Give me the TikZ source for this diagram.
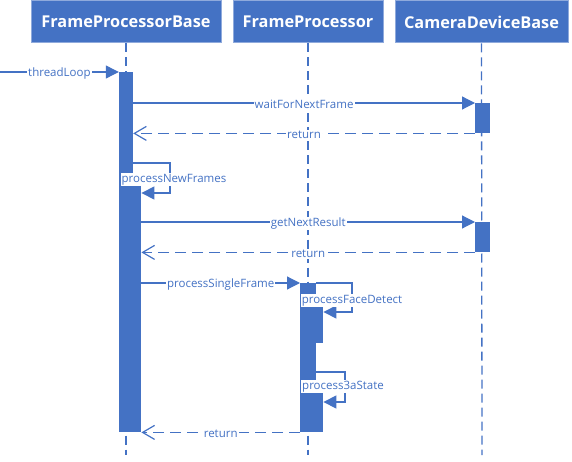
\documentclass[tikz,border=0pt]{standalone}
\usepackage{fontspec}
\setmainfont{Open Sans}
\usetikzlibrary{arrows.meta}
\definecolor{ublue}{HTML}{4472C4}
\definecolor{uedge}{HTML}{8FAADC}
\begin{document}
\begin{tikzpicture}[x=1pt,y=-1pt,
  hdr/.style={draw=uedge,line width=1pt,fill=ublue,text=white,font=\fontsize{16.3}{18}\selectfont\bfseries,minimum height=42pt,inner sep=0pt},
  life/.style={draw=ublue,line width=1.3pt,dash pattern=on 9pt off 5pt},
  actbar/.style={fill=ublue,draw=none,inner sep=0pt},
  call/.style={draw=ublue,line width=1.2pt,-{Triangle[length=13pt,width=13pt]}},
  ret/.style={draw=ublue,line width=1.2pt,dash pattern=on 11pt off 6pt,-{Straight Barb[length=12pt,width=14pt,line width=1.2pt]}},
  lbl/.style={fill=white,text=ublue,font=\fontsize{11.5}{13}\selectfont,inner sep=1pt,yshift=-1.5pt}
]
\useasboundingbox (0,0) rectangle (572,462);
% headers
\node[hdr,minimum width=190pt] (h1) at (126,22) {FrameProcessorBase};
\node[hdr,minimum width=150pt] (h2) at (308,22) {FrameProcessor};
\node[hdr,minimum width=173pt] (h3) at (481.5,22) {CameraDeviceBase};
% lifeline ends
\coordinate (e1) at (126,455);
\coordinate (e2) at (308,455);
\coordinate (e3) at (482,455);
\draw[life] (h1.south) -- (e1);
\draw[life] (h2.south) -- (e2);
\draw[life] (h3.south) -- (e3);
% activation bars
\node[actbar,minimum width=14pt,minimum height=360pt,anchor=north] (b1) at (126,72) {};
\node[actbar,minimum width=8pt,minimum height=246pt,anchor=north west] (b1n) at (133,186) {};
\node[actbar,minimum width=15pt,minimum height=30pt,anchor=north west] (c1) at (475,103) {};
\node[actbar,minimum width=15pt,minimum height=30pt,anchor=north west] (c2) at (475,222) {};
\node[actbar,minimum width=16pt,minimum height=149pt,anchor=north west] (f1) at (300,283) {};
\node[actbar,minimum width=7pt,minimum height=37pt,anchor=north west] (f1a) at (316,306) {};
\node[actbar,minimum width=7pt,minimum height=41pt,anchor=north west] (f1b) at (316,391) {};
% messages
\coordinate (start) at (0,72);
\draw[call] (start) -- node[lbl] {threadLoop} (b1.north west);
\draw[call] (b1.east |- c1.north west) -- node[lbl] {waitForNextFrame} (c1.north west);
\draw[ret] (c1.south west) -- node[lbl] {return} (b1.east |- c1.south west);
\draw[call] (b1.east |- 0,163) -- (170,163) -- (170,193) -- (b1n.east |- 0,193);
\node[lbl] (l1) at (174,178) {processNewFrames};
\draw[call] (b1n.east |- c2.north west) -- node[lbl] {getNextResult} (c2.north west);
\draw[ret] (c2.south west) -- node[lbl] {return} (b1n.east |- c2.south west);
\draw[call] (b1n.east |- f1.north west) -- node[lbl] {processSingleFrame} (f1.north west);
\draw[call] (f1.north east) -- (352,283) -- (352,312) -- (f1a.east |- 0,312);
\node[lbl] (l2) at (352,299) {processFaceDetect};
\draw[call] (f1.east |- 0,372) -- (345,372) -- (345,402) -- (f1b.east |- 0,402);
\node[lbl] (l3) at (343,385) {process3aState};
\draw[ret] (f1.south west) -- node[lbl] {return} (b1n.east |- f1.south west);
\end{tikzpicture}
\end{document}
